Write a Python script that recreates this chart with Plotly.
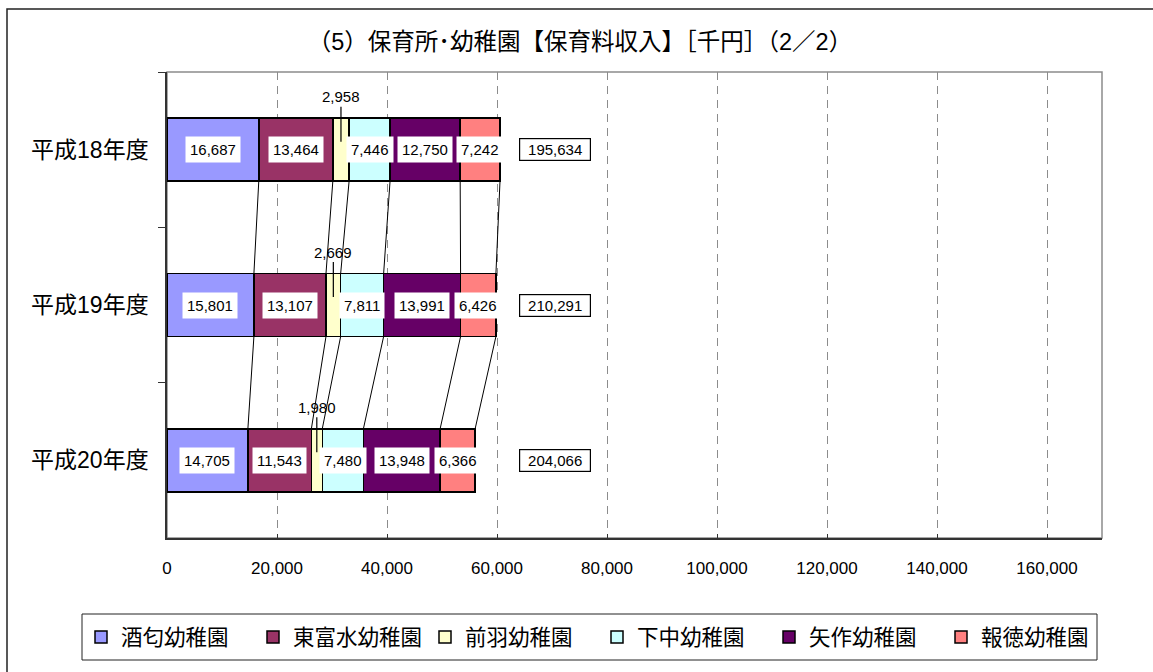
import plotly.graph_objects as go

# ---- data -------------------------------------------------------------
years = ["平成18年度", "平成19年度", "平成20年度"]

schools = ["酒匂幼稚園", "東富水幼稚園", "前羽幼稚園", "下中幼稚園", "矢作幼稚園", "報徳幼稚園"]
v_sakawa = [16687, 15801, 14705]
v_higashitomizu = [13464, 13107, 11543]
v_maeba = [2958, 2669, 1980]
v_shimonaka = [7446, 7811, 7480]
v_yahagi = [12750, 13991, 13948]
v_hotoku = [7242, 6426, 6366]

totals = [195634, 210291, 204066]

x_ticks = [0, 20000, 40000, 60000, 80000, 100000, 120000, 140000, 160000]

# ---- styling ----------------------------------------------------------
colors = ["#9999FF", "#993366", "#FFFFCC", "#CCFFFF", "#660066", "#FF8080"]
FONT = "Liberation Sans, Noto Sans CJK JP, sans-serif"
W, H = 1153, 672
M_L, M_R, M_T, M_B = 167, 51, 72, 134
PW, PH = W - M_L - M_R, H - M_T - M_B
BAR_W = 0.405
TOTAL_LABEL_X = 70500
SMALL_SEGMENT = 3500


def px_x(p):
    return (p - M_L) / PW


def px_y(p):
    return (H - M_B - p) / PH


series = [v_sakawa, v_higashitomizu, v_maeba, v_shimonaka, v_yahagi, v_hotoku]

fig = go.Figure()
for name, vals, col in zip(schools, series, colors):
    fig.add_trace(go.Bar(
        name=name, y=years, x=vals, orientation="h",
        marker=dict(color=col, line=dict(color="black", width=1.5)),
        width=BAR_W, hoverinfo="skip",
    ))

annotations = []
shapes = []

# cumulative right edges of every segment, per year
edges = []
for i in range(len(years)):
    run = 0
    row = []
    for vals in series:
        start = run
        run += vals[i]
        row.append((start, run))
    edges.append(row)

# value labels
for i, yr in enumerate(years):
    for k, vals in enumerate(series):
        start, end = edges[i][k]
        mid = (start + end) / 2
        v = vals[i]
        if v < SMALL_SEGMENT:
            annotations.append(dict(
                x=mid, y=yr, xref="x", yref="y", text=f"{v:,}",
                showarrow=True, arrowhead=0, arrowwidth=1.2, arrowcolor="black",
                ax=0, ay=-53, standoff=8,
                font=dict(family=FONT, size=15, color="black"),
            ))
        else:
            annotations.append(dict(
                x=mid, y=yr, xref="x", yref="y", text=f"{v:,}",
                showarrow=False, bgcolor="white", borderpad=4,
                font=dict(family=FONT, size=15, color="black"),
            ))
    annotations.append(dict(
        x=TOTAL_LABEL_X, y=yr, xref="x", yref="y", text=f"{totals[i]:,}",
        showarrow=False, bgcolor="white", bordercolor="black", borderwidth=1.2,
        width=68, height=19,
        font=dict(family=FONT, size=15, color="black"),
    ))

# series lines joining the segment edges of consecutive years
for i in range(len(years) - 1):
    for k in range(len(series)):
        shapes.append(dict(
            type="line", xref="x", yref="y",
            x0=edges[i][k][1], y0=i + BAR_W / 2,
            x1=edges[i + 1][k][1], y1=i + 1 - BAR_W / 2,
            line=dict(color="black", width=1),
        ))

# plot-area frame (top / right in grey)
shapes.append(dict(type="rect", xref="paper", yref="paper", x0=0, y0=0, x1=1, y1=1,
                   line=dict(color="#8c8c8c", width=1.5), layer="below"))
# outer chart frame
shapes.append(dict(type="rect", xref="paper", yref="paper",
                   x0=px_x(7), y0=px_y(700), x1=px_x(1180), y1=px_y(9),
                   line=dict(color="#222222", width=1.5), layer="below"))
# legend frame
shapes.append(dict(type="rect", xref="paper", yref="paper",
                   x0=px_x(82), y0=px_y(660), x1=px_x(1097), y1=px_y(614),
                   line=dict(color="#222222", width=1), layer="below"))

fig.update_layout(
    width=W, height=H,
    margin=dict(l=M_L, r=M_R, t=M_T, b=M_B, autoexpand=False),
    paper_bgcolor="white", plot_bgcolor="white",
    barmode="stack",
    font=dict(family=FONT, color="black"),
    title=dict(text="（5）保育所･幼稚園【保育料収入】［千円］（2／2）",
               x=0.503, xref="container", xanchor="center",
               y=1 - 42 / H, yref="container", yanchor="middle",
               font=dict(family=FONT, size=23.5, color="black")),
    xaxis=dict(range=[0, 170000], tickvals=x_ticks, tickformat=",",
               showgrid=True, gridcolor="#8c8c8c", griddash="8px,6px", gridwidth=1,
               ticks="inside", ticklen=4, tickcolor="#333333",
               showline=True, linecolor="#333333", linewidth=1.5,
               tickfont=dict(family=FONT, size=17, color="black"),
               ticklabelstandoff=14, zeroline=False, fixedrange=True),
    yaxis=dict(type="category", categoryorder="array", categoryarray=years,
               autorange="reversed", tickson="boundaries",
               ticks="outside", ticklen=7, tickcolor="#333333",
               showline=True, linecolor="#333333", linewidth=1.5,
               showgrid=False, tickfont=dict(family=FONT, size=23, color="black"),
               ticklabelstandoff=12, fixedrange=True),
    legend=dict(orientation="h", x=px_x(81), y=px_y(637),
                xanchor="left", yanchor="middle", entrywidth=127,
                font=dict(family=FONT, size=21.5, color="black"),
                bgcolor="rgba(0,0,0,0)", traceorder="normal"),
    annotations=annotations,
    shapes=shapes,
)

fig.write_html("out.html")
